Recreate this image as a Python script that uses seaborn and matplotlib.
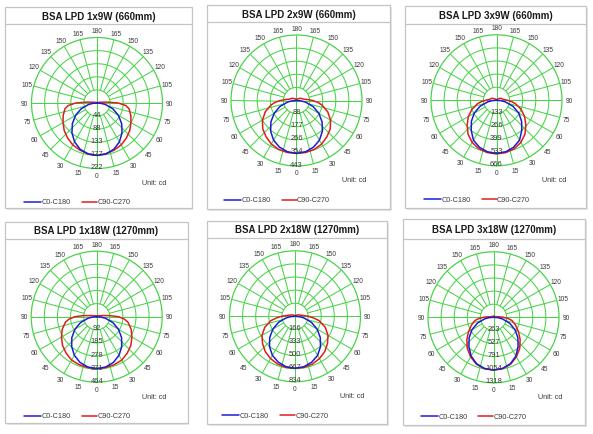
import numpy as np
import pandas as pd
import matplotlib
matplotlib.use('Agg')
import matplotlib.pyplot as plt
import seaborn as sns
from matplotlib.patches import Rectangle
from matplotlib.lines import Line2D

# --- datos ---
titles = ['BSA LPD 1x9W (660mm)', 'BSA LPD 2x9W (660mm)', 'BSA LPD 3x9W (660mm)',
          'BSA LPD 1x18W (1270mm)', 'BSA LPD 2x18W (1270mm)', 'BSA LPD 3x18W (1270mm)']

ring_labels = [
    [44, 88, 133, 177, 222],
    [88, 177, 266, 354, 443],
    [133, 266, 399, 533, 666],
    [92, 185, 278, 371, 464],
    [166, 333, 500, 667, 834],
    [263, 527, 791, 1054, 1318],
]

# ángulos gamma (grados desde el nadir), un lado; el otro es simétrico
gamma = [0, 10, 20, 30, 40, 50, 60, 70, 80, 85, 90, 95, 100, 110, 120, 150, 180]

# C0-C180 (cd)
c0_1x9 = [178, 175, 167, 152, 132, 109, 84, 57, 29, 14, 0, 0, 0, 0, 0, 0, 0]
c0_2x9 = [358, 352, 336, 310, 272, 226, 175, 120, 61, 30, 0, 0, 0, 0, 0, 0, 0]
c0_3x9 = [540, 532, 508, 468, 400, 333, 262, 178, 90, 45, 0, 0, 0, 0, 0, 0, 0]
c0_1x18 = [368, 362, 345, 316, 276, 230, 178, 122, 62, 31, 0, 0, 0, 0, 0, 0, 0]
c0_2x18 = [662, 652, 622, 575, 505, 420, 325, 222, 113, 56, 0, 0, 0, 0, 0, 0, 0]
c0_3x18 = [1060, 1045, 995, 900, 770, 640, 500, 345, 180, 90, 0, 0, 0, 0, 0, 0, 0]

# C90-C270 (cd)
c90_1x9 = [177, 175, 170, 164, 155, 145, 133, 122, 110, 98, 72, 35, 15, 6, 4, 2, 0]
c90_2x9 = [358, 357, 352, 340, 320, 298, 266, 225, 175, 145, 110, 75, 50, 38, 30, 12, 0]
c90_3x9 = [545, 540, 525, 495, 450, 390, 330, 265, 195, 155, 110, 80, 65, 55, 40, 12, 0]
c90_1x18 = [368, 366, 362, 355, 337, 316, 288, 260, 225, 197, 155, 90, 45, 20, 14, 8, 0]
c90_2x18 = [662, 660, 648, 622, 588, 540, 485, 410, 310, 235, 170, 110, 80, 50, 35, 12, 0]
c90_3x18 = [1065, 1050, 1005, 920, 820, 700, 580, 475, 380, 300, 200, 120, 70, 40, 30, 22, 20]

c0_all = [c0_1x9, c0_2x9, c0_3x9, c0_1x18, c0_2x18, c0_3x18]
c90_all = [c90_1x9, c90_2x9, c90_3x9, c90_1x18, c90_2x18, c90_3x18]

# --- maquetación (píxeles de la imagen 593x435) ---
W, H = 593, 435
centers = [(97, 104), (296.5, 101.5), (496.5, 101.3),
           (96.7, 317.7), (295, 317.3), (493.5, 318.3)]
frames = [(5, 8, 192, 209, 25), (207, 6, 390, 210, 23), (405, 7, 586, 209, 25),
          (5, 223, 188, 424, 240), (207, 222, 387, 425, 239), (403, 220, 585, 426, 240)]
R = 65.5

green = '#4ad34a'
blue = '#1c1cd6'
red = '#e01c1c'
txt = '#3a3a3a'

sns.set_style('white')
plt.rcParams['font.family'] = ['Liberation Sans', 'DejaVu Sans']

fig = plt.figure(figsize=(W / 100, H / 100), dpi=100)


def fx(x):
    return x / W


def fy(y):
    return 1 - y / H


for i in range(6):
    x0, y0, x1, y1, yt = frames[i]
    # sombra ligera + marco (por debajo de los ejes)
    fig.add_artist(Rectangle((fx(x0 + 1.5), fy(y1 + 1.5)), fx(x1) - fx(x0), fy(y0) - fy(y1),
                             transform=fig.transFigure, fc='#e6e6e6', ec='none', zorder=-2))
    fig.add_artist(Rectangle((fx(x0), fy(y1)), fx(x1) - fx(x0), fy(y0) - fy(y1),
                             transform=fig.transFigure, fc='white', ec='#c4c4c4', lw=0.9, zorder=-1))
    fig.add_artist(Line2D([fx(x0), fx(x1)], [fy(yt), fy(yt)],
                          transform=fig.transFigure, color='#c4c4c4', lw=0.9))
    fig.text(fx((x0 + x1) / 2), fy((y0 + yt) / 2), titles[i], ha='center', va='center',
             fontsize=7, fontweight='bold', color='#1a1a1a')

    cx, cy = centers[i]
    ax = fig.add_axes([fx(cx - R), fy(cy + R), 2 * R / W, 2 * R / H], projection='polar')
    ax.set_theta_zero_location('S')
    ax.set_theta_direction(1)
    ax.set_facecolor('none')
    ax.grid(False)

    rings = ring_labels[i]
    rmax = rings[-1]
    step = rmax / 5

    # rejilla
    t = np.linspace(0, 2 * np.pi, 300)
    for k in range(1, 5):
        ax.plot(t, np.full_like(t, step * k), color=green, lw=0.75, zorder=1)
    for a in range(0, 360, 15):
        r0 = 0 if a % 90 == 0 else step
        ax.plot([np.deg2rad(a)] * 2, [r0, rmax], color=green, lw=0.75, zorder=1)
    ax.spines['polar'].set_color(green)
    ax.spines['polar'].set_linewidth(0.9)

    # curvas
    g = np.array(gamma, dtype=float)
    side = g <= 90
    th_b = np.deg2rad(np.r_[-g[side][::-1], g[side][1:]])
    v_b = np.array(c0_all[i], dtype=float)[side]
    df_b = pd.DataFrame({'theta': th_b, 'cd': np.r_[v_b[::-1], v_b[1:]]})
    th_r = np.deg2rad(np.r_[-g[::-1], g[1:]])
    v_r = np.array(c90_all[i], dtype=float)
    df_r = pd.DataFrame({'theta': th_r, 'cd': np.r_[v_r[::-1], v_r[1:]]})
    sns.lineplot(data=df_r, x='theta', y='cd', sort=False, estimator=None,
                 color=red, lw=1.1, ax=ax, zorder=3)
    sns.lineplot(data=df_b, x='theta', y='cd', sort=False, estimator=None,
                 color=blue, lw=1.1, ax=ax, zorder=4)

    ax.set_ylim(0, rmax)
    ax.set_xticks([])
    ax.set_yticks([])
    ax.set_xlabel('')
    ax.set_ylabel('')

    # etiquetas de ángulo
    for a in range(0, 181, 15):
        sides = [a] if a in (0, 180) else [a, -a]
        for s in sides:
            ax.text(np.deg2rad(s), rmax * 1.105, str(a), ha='center', va='center',
                    fontsize=4.8, color=txt, clip_on=False)
    # etiquetas radiales
    for k, lab in enumerate(rings, start=1):
        ax.text(0, step * k - 0.15 * step, str(lab), ha='center', va='center',
                fontsize=5.4, color=txt, zorder=5)

    # leyenda y unidad
    ly = cy + 99
    fig.add_artist(Line2D([fx(cx - 73), fx(cx - 56)], [fy(ly), fy(ly)],
                          transform=fig.transFigure, color=blue, lw=1.1))
    fig.text(fx(cx - 55), fy(ly), 'C0-C180', ha='left', va='center', fontsize=5.2, color=txt)
    fig.add_artist(Line2D([fx(cx - 15), fx(cx)], [fy(ly), fy(ly)],
                          transform=fig.transFigure, color=red, lw=1.1))
    fig.text(fx(cx + 0.5), fy(ly), 'C90-C270', ha='left', va='center', fontsize=5.2, color=txt)
    fig.text(fx(cx + 45), fy(cy + 79.5), 'Unit: cd', ha='left', va='center',
             fontsize=5.2, color=txt)

fig.savefig('out.png', dpi=100)
